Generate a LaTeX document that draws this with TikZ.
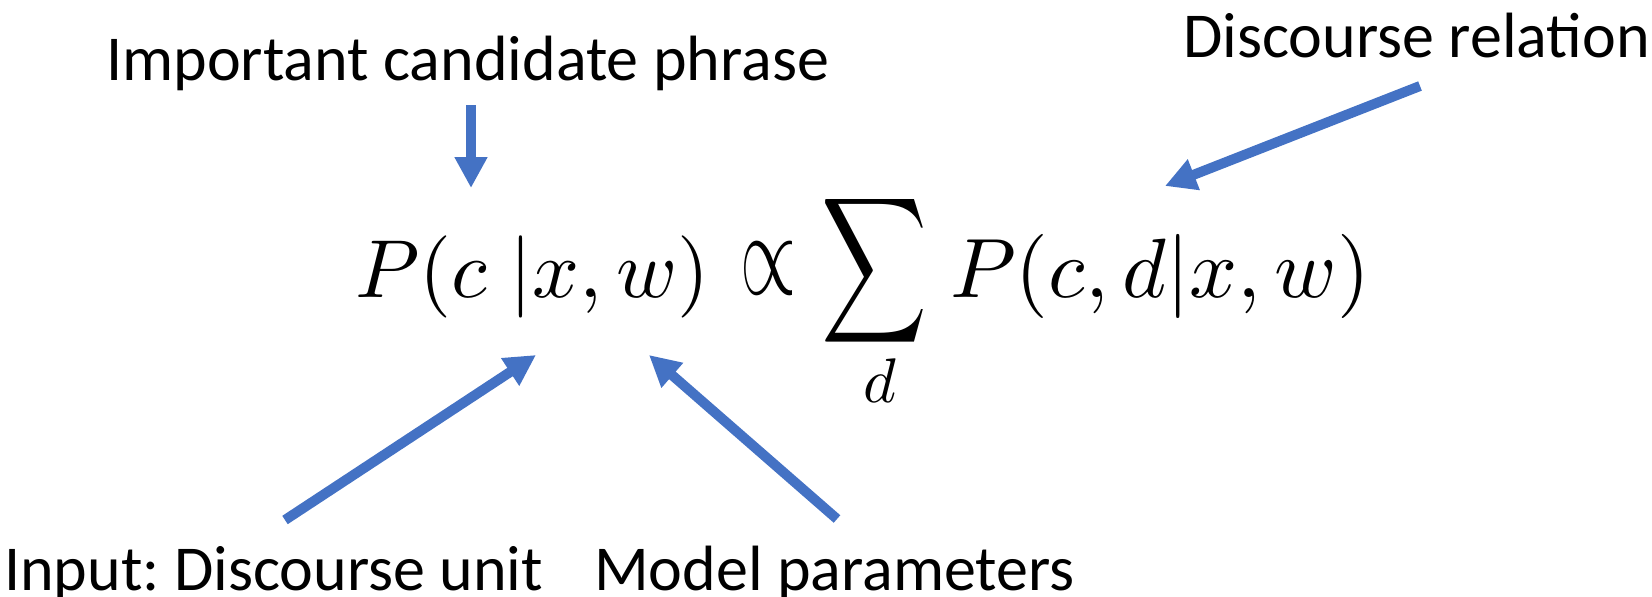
\documentclass[tikz,border=0pt]{standalone}
\usepackage{fontspec}
\setmainfont{Carlito}
\usepackage{graphicx}
\usetikzlibrary{arrows.meta}
\definecolor{arrowblue}{HTML}{4472C4}
\frenchspacing
\begin{document}
\begin{tikzpicture}[x=1pt,y=-1pt,
  lbl/.style={font=\fontsize{64}{70}\selectfont, inner sep=0pt, anchor=base west},
  eq/.style={inner sep=0pt, anchor=base west},
  ptr/.style={draw=arrowblue, line width=10pt, -{Triangle[length=31pt,width=31pt]}}]
\useasboundingbox (0,0) rectangle (1652,597);
% labels
\node[lbl] (imp) at (106,80) {Important candidate phrase};
\node[lbl] (rel) at (1183,57) {Discourse relation};
\node[lbl] (inp) at (4,590) {Input: Discourse unit};
\node[lbl] (mod) at (594,590) {Model parameters};
% formula
\node[eq] (lhs) at (355,297) {\resizebox{354pt}{!}{$P(c\;|x,w)$}};
\node[inner sep=0pt] (prop) at (768,268) {\resizebox*{56pt}{52pt}{$\propto$}};
\node[inner sep=0pt] (sum) at (875,271) {\resizebox*{106pt}{163pt}{$\displaystyle\sum$}};
\node[inner sep=0pt, anchor=base] (sub) at (880,402) {\scalebox{6.3}{$d$}};
\node[eq] (rhs) at (950,297) {\resizebox{420pt}{!}{$P(c,d|x,w)$}};
% arrow ends
\coordinate (s1) at (471,105);
\coordinate (t1) at (471,188);
\coordinate (s2) at (1420,86);
\coordinate (t2) at (1165,186);
\coordinate (s3) at (285,520);
\coordinate (t3) at (536,355);
\coordinate (s4) at (837,519);
\coordinate (t4) at (649,355);
\draw[ptr] (s1) -- (t1);
\draw[ptr] (s2) -- (t2);
\draw[ptr] (s3) -- (t3);
\draw[ptr] (s4) -- (t4);
\end{tikzpicture}
\end{document}
